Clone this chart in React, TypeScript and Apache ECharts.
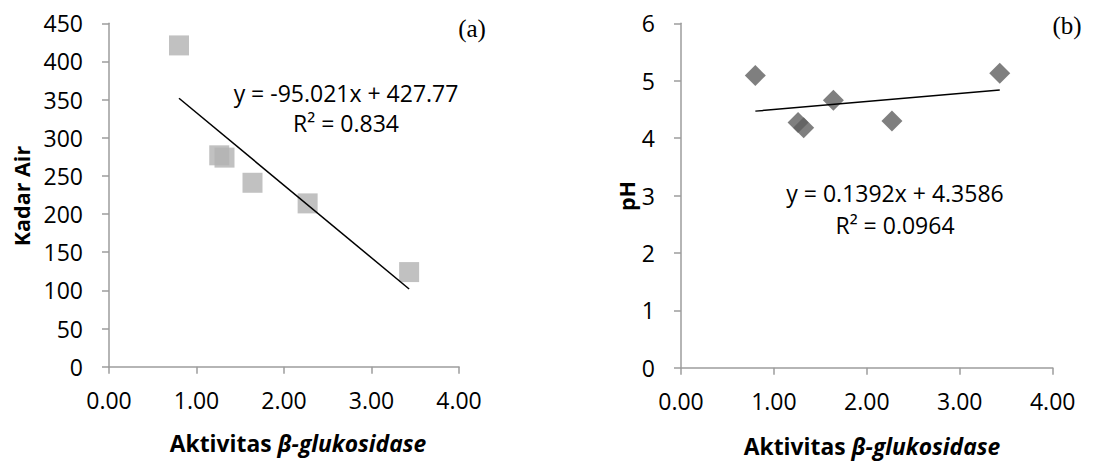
import React, { useEffect, useRef } from "react";
import * as echarts from "echarts";

const activity = [0.8, 1.26, 1.32, 1.64, 2.27, 3.43];
const kadarAir = [421, 277, 274, 241, 214, 124];
const activityPH = [0.8, 1.26, 1.32, 1.64, 2.27, 3.43];
const pH = [5.09, 4.27, 4.18, 4.66, 4.3, 5.13];
const slopeA = -95.021;
const interceptA = 427.77;
const slopeB = 0.1392;
const interceptB = 4.3586;
const trendRange = [0.8, 3.43];
const eqA = ["y = -95.021x + 427.77", "R² = 0.834"];
const eqB = ["y = 0.1392x + 4.3586", "R² = 0.0964"];

const FONT = "Open Sans";

export default function App() {
  const ref = useRef<HTMLDivElement>(null);
  useEffect(() => {
    if (!ref.current) return;
    const chart = echarts.init(ref.current, null, { renderer: "svg" });
    const axisCol = "#9d9d9d";
    const xAxisBase = (gridIndex: number) => ({
      type: "value",
      gridIndex,
      min: 0,
      max: 4,
      interval: 1,
      axisLine: { show: true, lineStyle: { color: axisCol, width: 1.5 } },
      axisTick: { show: true, length: 7, lineStyle: { color: axisCol, width: 1.5 } },
      splitLine: { show: false },
      axisLabel: {
        margin: 22,
        color: "#000",
        fontFamily: FONT,
        fontSize: 23,
        formatter: (v: number) => v.toFixed(2),
      },
    });
    const yAxisBase = (gridIndex: number, max: number, interval: number) => ({
      type: "value",
      gridIndex,
      min: 0,
      max,
      interval,
      axisLine: { show: true, lineStyle: { color: axisCol, width: 1.5 } },
      axisTick: { show: true, length: 7, lineStyle: { color: axisCol, width: 1.5 } },
      splitLine: { show: false },
      axisLabel: { margin: 26, color: "#000", fontFamily: FONT, fontSize: 23 },
    });
    const trendA = trendRange.map((x) => [x, slopeA * x + interceptA]);
    const trendB = trendRange.map((x) => [x, slopeB * x + interceptB]);
    const titleRich = (x: number, y: number) => ({
      type: "text",
      x,
      y,
      style: {
        text: "{a|Aktivitas }{b|β-glukosidase}",
        align: "center",
        verticalAlign: "middle",
        rich: {
          a: { fontFamily: FONT, fontWeight: "bold", fontSize: 22.8, fill: "#000" },
          b: { fontFamily: FONT, fontWeight: "bold", fontStyle: "italic", fontSize: 22.8, fill: "#000" },
        },
      },
    });
    const plain = (text: string, x: number, y: number, size: number, family = FONT, weight = "normal", rot = 0) => ({
      type: "text",
      x,
      y,
      rotation: rot,
      style: {
        text,
        align: "center",
        verticalAlign: "middle",
        fontFamily: family,
        fontSize: size,
        fontWeight: weight,
        fill: "#000",
      },
    });
    chart.setOption({
      animation: false,
      grid: [
        { left: 109, top: 23.3, width: 350, height: 343.4 },
        { left: 681, top: 23.3, width: 371.7, height: 344.4 },
      ],
      xAxis: [xAxisBase(0), xAxisBase(1)],
      yAxis: [yAxisBase(0, 450, 50), yAxisBase(1, 6, 1)],
      series: [
        {
          type: "scatter",
          xAxisIndex: 0,
          yAxisIndex: 0,
          symbol: "rect",
          symbolSize: 20,
          itemStyle: { color: "#b2b2b2" },
          data: activity.map((x, i) => [x, kadarAir[i]]),
          z: 2,
        },
        {
          type: "line",
          xAxisIndex: 0,
          yAxisIndex: 0,
          showSymbol: false,
          lineStyle: { color: "#000", width: 1.5 },
          data: trendA,
          z: 3,
        },
        {
          type: "scatter",
          xAxisIndex: 1,
          yAxisIndex: 1,
          symbol: "diamond",
          symbolSize: 21,
          itemStyle: { color: "#5f5f5f" },
          data: activityPH.map((x, i) => [x, pH[i]]),
          z: 2,
        },
        {
          type: "line",
          xAxisIndex: 1,
          yAxisIndex: 1,
          showSymbol: false,
          lineStyle: { color: "#000", width: 1.5 },
          data: trendB,
          z: 3,
        },
      ],
      graphic: [
        titleRich(298, 443),
        titleRich(872, 446),
        plain("Kadar Air", 21, 196, 21.5, FONT, "bold", Math.PI / 2),
        plain("pH", 626, 196, 21.5, FONT, "bold", Math.PI / 2),
        plain("(a)", 472, 28, 25, "Liberation Serif"),
        plain("(b)", 1067, 25, 25, "Liberation Serif"),
        plain(eqA[0], 346, 93, 23),
        plain(eqA[1], 346, 123, 23),
        plain(eqB[0], 895, 193, 23),
        plain(eqB[1], 895, 225, 23),
      ],
    });
    return () => chart.dispose();
  }, []);
  return (
    <div
      ref={ref}
      style={{ position: "fixed", left: 0, top: 0, width: 1102, height: 462, background: "#fff" }}
    />
  );
}
